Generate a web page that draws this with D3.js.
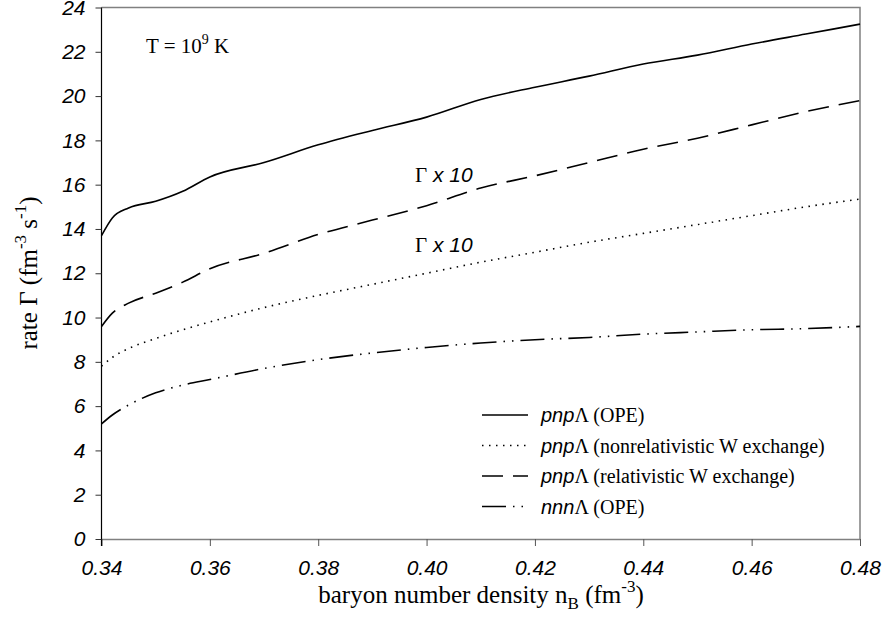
<!DOCTYPE html>
<html>
<head>
<meta charset="utf-8">
<script src="https://cdn.jsdelivr.net/npm/d3@7"></script>
<style>
  body { margin: 0; background: #fff; }
  .tick text { font-family: "Liberation Sans", Arial, sans-serif; font-style: italic; }
  .serif { font-family: "Liberation Serif", "Times New Roman", serif; }
  .sans-i { font-family: "Liberation Sans", Arial, sans-serif; font-style: italic; }
</style>
</head>
<body>
<svg id="chart" width="883" height="636"></svg>
<script>
// baryon density grid (fm^-3)
const density = [0.34, 0.342, 0.345, 0.35, 0.355, 0.36, 0.37, 0.38, 0.39, 0.40, 0.41, 0.42, 0.43, 0.44, 0.45, 0.46, 0.47, 0.48];
// rates
const pnpOPE = [13.7, 14.5, 14.95, 15.25, 15.7, 16.35, 17.0, 17.8, 18.45, 19.05, 19.85, 20.4, 20.9, 21.45, 21.85, 22.35, 22.8, 23.25];
const pnpNonrel = [7.8, 8.2, 8.6, 9.05, 9.45, 9.8, 10.45, 11.0, 11.5, 12.0, 12.5, 12.95, 13.4, 13.8, 14.2, 14.6, 15.0, 15.35];
const pnpRel = [9.6, 10.2, 10.65, 11.1, 11.6, 12.2, 12.9, 13.75, 14.4, 15.05, 15.85, 16.4, 17.0, 17.6, 18.1, 18.7, 19.3, 19.8];
const nnnOPE = [5.2, 5.6, 6.05, 6.6, 6.95, 7.2, 7.7, 8.1, 8.4, 8.65, 8.85, 9.0, 9.1, 9.25, 9.35, 9.45, 9.5, 9.6];

const xTicks = [0.34, 0.36, 0.38, 0.40, 0.42, 0.44, 0.46, 0.48];
const yTicks = [0, 2, 4, 6, 8, 10, 12, 14, 16, 18, 20, 22, 24];

const seriesNames = ["(OPE)", "(nonrelativistic W exchange)", "(relativistic W exchange)", "(OPE)"];
const seriesPrefix = ["pnp", "pnp", "pnp", "nnn"];
const seriesValues = [pnpOPE, pnpNonrel, pnpRel, nnnOPE];
const seriesDash = [null, "1.5,5.5", "21,10", "24,7,1.5,7,1.5,7"];

const svg = d3.select("#chart");
const x = d3.scaleLinear().domain([0.34, 0.48]).range([101.5, 860]);
const y = d3.scaleLinear().domain([0, 24]).range([539, 7.5]);

// frame (top and right)
svg.append("path")
  .attr("d", `M${x(0.34)},${y(24)}H${x(0.48)}V${y(0)}`)
  .attr("fill", "none").attr("stroke", "#808080").attr("stroke-width", 1.5);

// x axis
const gx = svg.append("g")
  .attr("transform", `translate(0,${y(0)})`)
  .call(d3.axisBottom(x).tickValues(xTicks).tickFormat(d3.format(".2f")).tickSizeInner(7).tickSizeOuter(0).tickPadding(14));
gx.select(".domain").attr("stroke", "#808080").attr("stroke-width", 1.5);
gx.selectAll(".tick line").attr("stroke", "#555");
gx.selectAll(".tick text").attr("font-size", 21).attr("fill", "#000");

// y axis
const gy = svg.append("g")
  .attr("transform", `translate(${x(0.34)},0)`)
  .call(d3.axisLeft(y).tickValues(yTicks).tickSizeInner(6).tickSizeOuter(0).tickPadding(10));
gy.select(".domain").attr("stroke", "#000").attr("stroke-width", 1.2)
  .attr("d", `M0,${y(0) + 7}V${y(24)}`);
gy.selectAll(".tick line").attr("stroke", "#333");
gy.selectAll(".tick text").attr("font-size", 21).attr("fill", "#000");

// curves
const line = d3.line().curve(d3.curveMonotoneX);
seriesValues.forEach((vals, i) => {
  svg.append("path")
    .attr("d", line(density.map((d, j) => [x(d), y(vals[j])])))
    .attr("fill", "none")
    .attr("stroke", "#000")
    .attr("stroke-width", 1.6)
    .attr("stroke-dasharray", seriesDash[i]);
});

// annotations
const t = svg.append("text").attr("class", "serif").attr("x", 146).attr("y", 53).attr("font-size", 21);
t.append("tspan").text("T = 10");
t.append("tspan").attr("font-size", 14).attr("dy", -9).text("9");
t.append("tspan").attr("dy", 9).text(" K");

[182, 252].forEach(by => {
  const g = svg.append("text").attr("x", 415).attr("y", by).attr("font-size", 21);
  g.append("tspan").attr("class", "serif").text("Γ");
  g.append("tspan").attr("class", "sans-i").text(" x 10");
});

// legend
const legendY = [415, 445.5, 476, 506.5];
seriesValues.forEach((vals, i) => {
  svg.append("line")
    .attr("x1", 482).attr("x2", 528)
    .attr("y1", legendY[i]).attr("y2", legendY[i])
    .attr("stroke", "#000").attr("stroke-width", 1.6)
    .attr("stroke-dasharray", seriesDash[i]);
  const lt = svg.append("text").attr("x", 541).attr("y", legendY[i] + 7).attr("font-size", 20);
  lt.append("tspan").attr("class", "sans-i").text(seriesPrefix[i]);
  lt.append("tspan").attr("class", "serif").text("Λ " + seriesNames[i]);
});

// axis titles
const xt = svg.append("text").attr("class", "serif").attr("x", 481).attr("y", 603)
  .attr("text-anchor", "middle").attr("font-size", 25);
xt.append("tspan").text("baryon number density n");
xt.append("tspan").attr("font-size", 17).attr("dy", 6).text("B");
xt.append("tspan").attr("dy", -6).text(" (fm");
xt.append("tspan").attr("font-size", 17).attr("dy", -11).text("-3");
xt.append("tspan").attr("dy", 11).text(")");

const yt = svg.append("text").attr("class", "serif")
  .attr("transform", "translate(37,273) rotate(-90)")
  .attr("text-anchor", "middle").attr("font-size", 25);
yt.append("tspan").text("rate  Γ (fm");
yt.append("tspan").attr("font-size", 17).attr("dy", -11).text("-3");
yt.append("tspan").attr("dy", 11).text(" s");
yt.append("tspan").attr("font-size", 17).attr("dy", -11).text("-1");
yt.append("tspan").attr("dy", 11).text(")");
</script>
</body>
</html>
